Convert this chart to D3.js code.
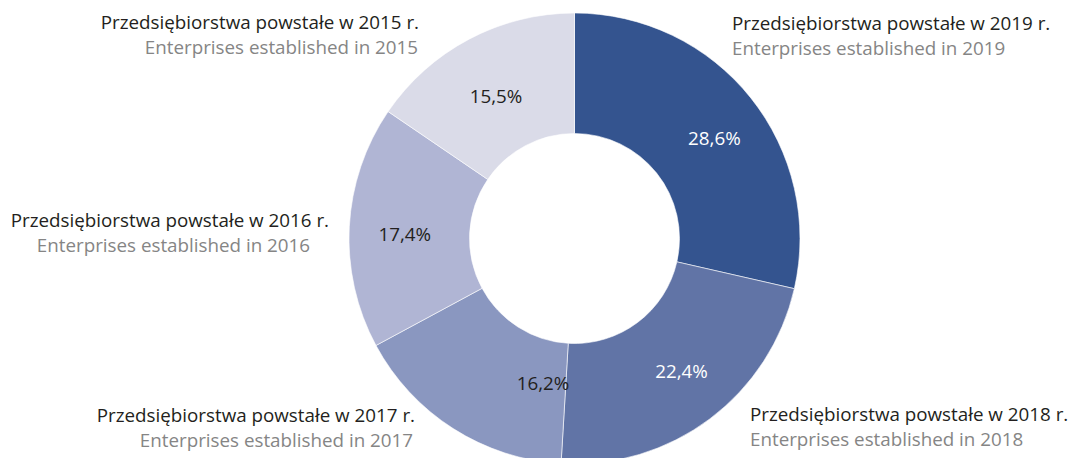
<!DOCTYPE html>
<html>
<head>
<meta charset="utf-8">
<script src="https://cdn.jsdelivr.net/npm/d3@7"></script>
<style>
  body { margin: 0; background: #fff; }
  svg text { font-family: "Open Sans", sans-serif; }
</style>
</head>
<body>
<div id="chart"></div>
<script>
const years = ['2019', '2018', '2017', '2016', '2015']
const shares = [28.6, 22.4, 16.2, 17.4, 15.5]
const labelsPl = years.map(y => `Przedsiębiorstwa powstałe w ${y} r.`)
const labelsEn = years.map(y => `Enterprises established in ${y}`)
const colors = ['#34548f', '#6174a6', '#8a97c0', '#b0b5d4', '#dadbe8']

const params = {
  width: 1073,
  height: 458,
  cx: 574.5,
  cy: 238.5,
  outer: 225.5,
  inner: 105,
  fontSize: 18.8,
}

// category labels: x of each line, baseline of first line, anchor
const labelLayout = [
  { x1: 732, x2: 732, y: 30, anchor: 'start' },
  { x1: 750, x2: 750, y: 421, anchor: 'start' },
  { x1: 415, x2: 413, y: 422, anchor: 'end' },
  { x1: 329, x2: 310, y: 227, anchor: 'end' },
  { x1: 419, x2: 418, y: 29, anchor: 'end' },
]
// small nudges of the percent labels away from the centroid
const pctNudge = [[7, 6], [5, -3], [60, 2], [0, 5], [1, 8]]

const svg = d3.select('#chart')
  .append('svg')
  .attr('width', params.width)
  .attr('height', params.height)

const data = years.map((y, i) => ({ year: y, value: shares[i], i }))

const pie = d3.pie().sort(null).value(d => d.value)
const arc = d3.arc().innerRadius(params.inner).outerRadius(params.outer)
const labelArc = d3.arc().innerRadius(170).outerRadius(170)

const g = svg.append('g')
  .attr('transform', `translate(${params.cx},${params.cy})`)

const arcs = pie(data)

g.selectAll('path')
  .data(arcs)
  .enter()
  .append('path')
  .attr('d', arc)
  .attr('fill', d => colors[d.data.i])
  .attr('stroke', '#ffffff')
  .attr('stroke-width', 0.6)

g.selectAll('text.pct')
  .data(arcs)
  .enter()
  .append('text')
  .attr('class', 'pct')
  .attr('x', d => labelArc.centroid(d)[0] + pctNudge[d.data.i][0])
  .attr('y', d => labelArc.centroid(d)[1] + pctNudge[d.data.i][1])
  .attr('dy', '0.35em')
  .attr('text-anchor', 'middle')
  .attr('font-size', params.fontSize)
  .attr('fill', d => d.data.i < 2 ? '#ffffff' : '#231f20')
  .text(d => d.data.value.toFixed(1).replace('.', ',') + '%')

const labels = svg.selectAll('g.label')
  .data(data)
  .enter()
  .append('g')
  .attr('class', 'label')

labels.append('text')
  .attr('x', d => labelLayout[d.i].x1)
  .attr('y', d => labelLayout[d.i].y)
  .attr('text-anchor', d => labelLayout[d.i].anchor)
  .attr('font-size', params.fontSize)
  .attr('fill', '#231f20')
  .text(d => labelsPl[d.i])

labels.append('text')
  .attr('x', d => labelLayout[d.i].x2)
  .attr('y', d => labelLayout[d.i].y + 24.5)
  .attr('text-anchor', d => labelLayout[d.i].anchor)
  .attr('font-size', params.fontSize)
  .attr('fill', '#858585')
  .text(d => labelsEn[d.i])
</script>
</body>
</html>
